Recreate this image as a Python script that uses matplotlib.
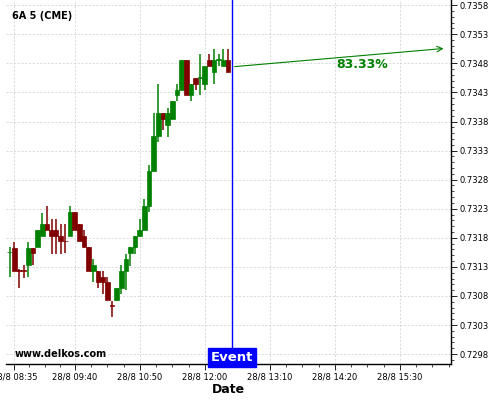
"""Candlestick chart, 6A 5 (CME), with event marker."""

import matplotlib
matplotlib.use('Agg')
import matplotlib.pyplot as plt
from matplotlib import transforms
import numpy as np
import pandas as pd

# ----------------------------------------------------------------------------
# Data

first_candle = '08:30'
candle_minutes = 5

opens = [
    0.73155, 0.73163, 0.73124, 0.73124, 0.73133, 0.73163, 0.73164, 0.73183,
    0.73203, 0.73193, 0.73193, 0.73183, 0.73175, 0.73183, 0.73224, 0.73203,
    0.73183, 0.73164, 0.73123, 0.73123, 0.73113, 0.73104, 0.73064, 0.73073,
    0.73094, 0.73123, 0.73154, 0.73164, 0.73183, 0.73193, 0.73234, 0.73295,
    0.73355, 0.73394, 0.73374, 0.73384, 0.73425, 0.73435, 0.73485, 0.73425,
    0.73454, 0.73455, 0.73444, 0.73485, 0.73465, 0.73486, 0.73476, 0.73485,
]
highs = [
    0.73164, 0.73173, 0.73126, 0.73133, 0.73173, 0.73163, 0.73193, 0.73223,
    0.73234, 0.73213, 0.73213, 0.73203, 0.73203, 0.73234, 0.73224, 0.73203,
    0.73193, 0.73164, 0.73143, 0.73123, 0.73123, 0.73113, 0.73072, 0.73094,
    0.73133, 0.73153, 0.73164, 0.73183, 0.73213, 0.73246, 0.73305, 0.73394,
    0.73444, 0.73394, 0.73404, 0.73415, 0.73444, 0.73485, 0.73485, 0.73444,
    0.73454, 0.73496, 0.73475, 0.73496, 0.73504, 0.73496, 0.73504, 0.73504,
]
lows = [
    0.73112, 0.73123, 0.73093, 0.73111, 0.73112, 0.73133, 0.73164, 0.73183,
    0.73193, 0.73153, 0.73153, 0.73153, 0.73154, 0.73183, 0.73193, 0.73175,
    0.73164, 0.73123, 0.73104, 0.73093, 0.73084, 0.73073, 0.73043, 0.73071,
    0.73083, 0.73090, 0.73132, 0.73153, 0.73183, 0.73193, 0.73225, 0.73295,
    0.73345, 0.73365, 0.73354, 0.73384, 0.73415, 0.73435, 0.73425, 0.73415,
    0.73435, 0.73425, 0.73435, 0.73476, 0.73445, 0.73476, 0.73476, 0.73465,
]
closes = [
    0.73156, 0.73123, 0.73123, 0.73123, 0.73163, 0.73154, 0.73193, 0.73203,
    0.73193, 0.73183, 0.73183, 0.73175, 0.73174, 0.73224, 0.73193, 0.73175,
    0.73164, 0.73123, 0.73133, 0.73104, 0.73104, 0.73073, 0.73063, 0.73094,
    0.73123, 0.73143, 0.73164, 0.73183, 0.73193, 0.73234, 0.73295, 0.73355,
    0.73394, 0.73384, 0.73394, 0.73415, 0.73435, 0.73485, 0.73425, 0.73444,
    0.73444, 0.73456, 0.73475, 0.73476, 0.73485, 0.73487, 0.73485, 0.73465,
]

event_time = '12:29'
forecast_start = ('12:29', 0.73474)
forecast_end = ('16:20', 0.73506)
forecast_label = '83.33%'

x_tick_times = ['08:35', '09:40', '10:50', '12:00', '13:10', '14:20', '15:30']
x_tick_labels = ['28/8 ' + t for t in x_tick_times]
y_ticks = [0.7298, 0.7303, 0.7308, 0.7313, 0.7318, 0.7323, 0.7328,
           0.7333, 0.7338, 0.7343, 0.7348, 0.7353, 0.7358]

x_limits = ('08:26', '16:25')
y_limits = (0.72963, 0.73589)

UP = '#008000'
DOWN = '#800000'


# ----------------------------------------------------------------------------
# helpers


def _minutes(hhmm):
    h, m = hhmm.split(':')
    return int(h) * 60 + int(m)


# ----------------------------------------------------------------------------
# Plot

times = pd.date_range('2020-08-28 ' + first_candle, periods=len(opens),
                      freq='{}min'.format(candle_minutes))
x = np.array([t.hour * 60 + t.minute for t in times], dtype=float)
o, h, l, c = (np.array(v) for v in (opens, highs, lows, closes))
colors = [UP if cc >= oo else DOWN for oo, cc in zip(o, c)]

fig = plt.figure(figsize=(5, 4), dpi=100)
ax = fig.add_axes([0.012, 0.09, 0.89, 0.91])

ax.vlines(x, l, h, colors=colors, linewidth=1.1, zorder=2)
ax.bar(x, np.maximum(np.abs(c - o), 0.000005), bottom=np.minimum(o, c),
       width=candle_minutes, color=colors, edgecolor=colors, linewidth=0.5,
       zorder=3)

ev = _minutes(event_time)
ax.axvline(ev, color='#0000ff', linewidth=1, zorder=4)
trans = transforms.blended_transform_factory(ax.transData, ax.transAxes)
ax.text(ev, 0.0, 'Event', transform=trans, ha='center', va='bottom',
        color='white', fontsize=9.5, fontweight='bold', zorder=5,
        bbox=dict(boxstyle='square,pad=0.2', fc='#0000ff', ec='#0000ff'))

ax.annotate('', xy=(_minutes(forecast_end[0]), forecast_end[1]),
            xytext=(_minutes(forecast_start[0]), forecast_start[1]),
            arrowprops=dict(arrowstyle='->', color=UP, lw=0.8,
                            mutation_scale=10))
ax.text(0.80, 0.822, forecast_label, transform=ax.transAxes, color=UP,
        fontsize=9, fontweight='bold', ha='center', va='center')

ax.text(0.013, 0.955, '6A 5 (CME)', transform=ax.transAxes, fontsize=7,
        fontweight='bold', ha='left', va='center')
ax.text(0.02, 0.027, 'www.delkos.com', transform=ax.transAxes, fontsize=7,
        fontweight='bold', ha='left', va='center')

# Axes -----------------------------------------------------------------------
ax.set_xlim(_minutes(x_limits[0]), _minutes(x_limits[1]))
ax.set_ylim(*y_limits)

major_x = [_minutes(t) for t in x_tick_times]
ax.set_xticks(major_x)
ax.set_xticklabels(x_tick_labels, fontsize=6)
minor_x = []
for a, b in zip(major_x, major_x[1:] + [major_x[-1] + 70]):
    minor_x += list(np.linspace(a, b, 5)[1:-1])
ax.set_xticks(minor_x, minor=True)

ax.yaxis.tick_right()
ax.set_yticks(y_ticks)
ax.set_yticklabels(['{:.4f}'.format(v) for v in y_ticks], fontsize=6)
ax.set_yticks(np.arange(y_ticks[0] - 0.0001, y_limits[1], 0.0001), minor=True)

ax.tick_params(axis='both', which='major', length=4, width=0.6, pad=2)
ax.tick_params(axis='both', which='minor', length=2, width=0.5)

for side in ('left', 'top'):
    ax.spines[side].set_visible(False)
for side in ('right', 'bottom'):
    ax.spines[side].set_linewidth(1)

ax.grid(True, which='major', color='#d4d4d4', linestyle=(0, (2.5, 2)),
        linewidth=0.6, zorder=0)
ax.set_axisbelow(True)

ax.set_xlabel('Date', fontsize=9, fontweight='bold', labelpad=1)

fig.savefig('out.png', dpi=100)
